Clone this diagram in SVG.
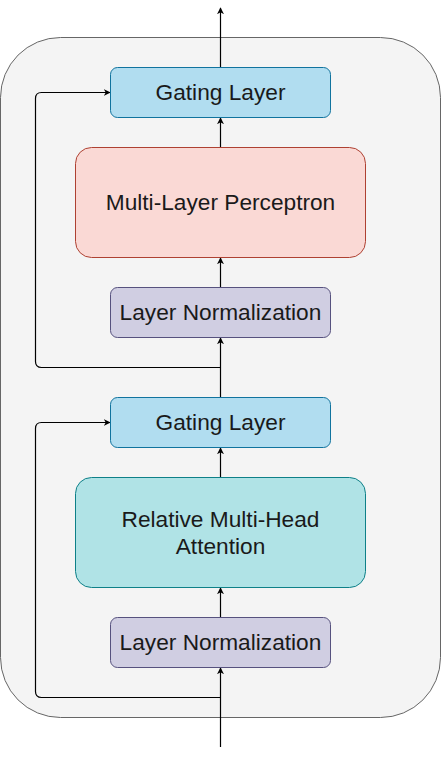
<svg xmlns="http://www.w3.org/2000/svg" width="441" height="757" viewBox="0 0 441 757">
<style>
text{font-family:"Liberation Sans",Arial,sans-serif;font-size:22.7px;fill:#1a1a1a;text-anchor:middle}
.gate{fill:#b1ddf0;stroke:#10739e;stroke-width:1}
.mlp{fill:#fad9d5;stroke:#ae4132;stroke-width:1}
.ln{fill:#d0cee2;stroke:#56517e;stroke-width:1}
.att{fill:#b0e3e6;stroke:#0e8088;stroke-width:1}
.edge{fill:none;stroke:#000;stroke-width:1.2}
</style>
<defs>
<marker id="arr" viewBox="0 0 10 10" refX="9" refY="5" markerWidth="7" markerHeight="7" markerUnits="userSpaceOnUse" orient="auto">
<path d="M0,0 L10,5 L0,10 L3,5 Z" fill="#000"/>
</marker>
</defs>
<g id="container">
<rect x="0.5" y="37.5" width="440" height="680" rx="60" ry="60" fill="#f4f4f4" stroke="#666666" stroke-width="1"/>
</g>
<g id="connectors">
<path class="edge" d="M220.5,67.5 V8" marker-end="url(#arr)"/>
<path class="edge" d="M220.5,147.5 V118" marker-end="url(#arr)"/>
<path class="edge" d="M220.5,287.5 V258" marker-end="url(#arr)"/>
<path class="edge" d="M220.5,397.5 V338" marker-end="url(#arr)"/>
<path class="edge" d="M220.5,367.5 H41.5 Q35.5,367.5 35.5,361.5 V98.5 Q35.5,92.5 41.5,92.5 H110" marker-end="url(#arr)"/>
<path class="edge" d="M220.5,477.5 V448" marker-end="url(#arr)"/>
<path class="edge" d="M220.5,617.5 V588" marker-end="url(#arr)"/>
<path class="edge" d="M220.5,747 V668" marker-end="url(#arr)"/>
<path class="edge" d="M220.5,697.5 H41.5 Q35.5,697.5 35.5,691.5 V428.5 Q35.5,422.5 41.5,422.5 H110" marker-end="url(#arr)"/>
</g>
<g id="gating2">
<rect class="gate" x="110.5" y="67.5" width="220" height="50" rx="7"/>
<text x="220.5" y="100">Gating Layer</text>
</g>
<g id="mlp">
<rect class="mlp" x="75.5" y="147.5" width="290" height="110" rx="16"/>
<text x="220.5" y="210">Multi-Layer Perceptron</text>
</g>
<g id="layernorm2">
<rect class="ln" x="110.5" y="287.5" width="220" height="50" rx="7"/>
<text x="220.5" y="320">Layer Normalization</text>
</g>
<g id="gating1">
<rect class="gate" x="110.5" y="397.5" width="220" height="50" rx="7"/>
<text x="220.5" y="430">Gating Layer</text>
</g>
<g id="attention">
<rect class="att" x="75.5" y="477.5" width="290" height="110" rx="16"/>
<text x="220.5" y="527">Relative Multi-Head</text>
<text x="220.5" y="553.5">Attention</text>
</g>
<g id="layernorm1">
<rect class="ln" x="110.5" y="617.5" width="220" height="50" rx="7"/>
<text x="220.5" y="650">Layer Normalization</text>
</g>
</svg>
